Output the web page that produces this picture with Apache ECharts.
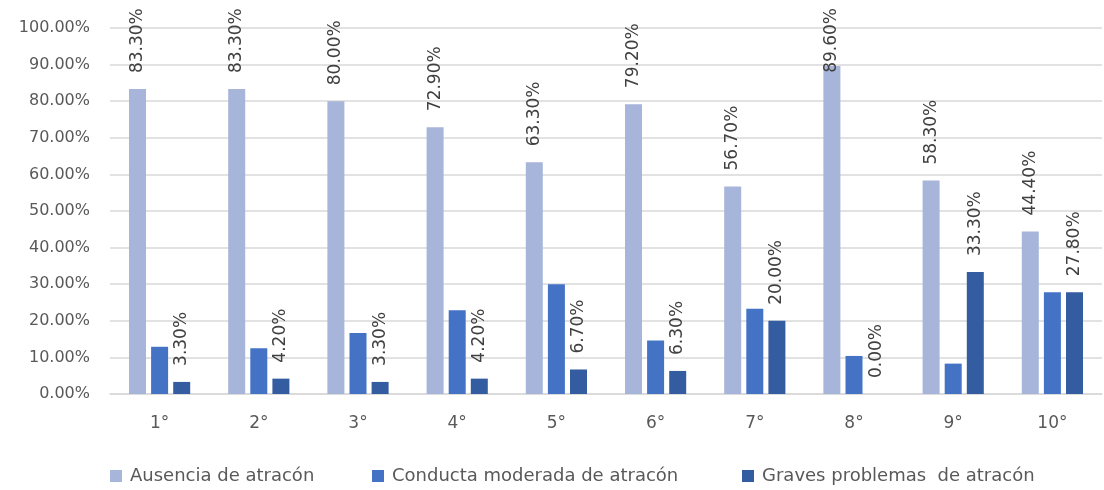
<!DOCTYPE html>
<html>
<head>
<meta charset="utf-8">
<script src="https://cdn.jsdelivr.net/npm/echarts@6/dist/echarts.min.js"></script>
<style>
  html, body { margin: 0; padding: 0; background: #fff; }
  #chart { width: 1104px; height: 490px; }
</style>
</head>
<body>
<div id="chart"></div>
<script>
const categories = ['1°', '2°', '3°', '4°', '5°', '6°', '7°', '8°', '9°', '10°'];
const seriesNames = ['Ausencia de atracón', 'Conducta moderada de atracón', 'Graves problemas  de atracón'];
const ausencia = [83.3, 83.3, 80.0, 72.9, 63.3, 79.2, 56.7, 89.6, 58.3, 44.4];
const moderada = [12.9, 12.5, 16.7, 22.9, 30.0, 14.6, 23.3, 10.4, 8.3, 27.8];
const graves = [3.3, 4.2, 3.3, 4.2, 6.7, 6.3, 20.0, 0.0, 33.3, 27.8];
const colors = ['#a7b5da', '#4472c4', '#345ca0'];

const textColor = '#595959';
const fontFamily = 'DejaVu Sans';
const labelDist = 16;

const chart = echarts.init(document.getElementById('chart'));

// rotated value label above the bar
const topLabel = {
  show: true,
  position: 'top',
  rotate: 90,
  align: 'left',
  verticalAlign: 'middle',
  distance: labelDist,
  color: '#404040',
  fontFamily: fontFamily,
  fontSize: 17,
  formatter: p => p.value.toFixed(2) + '%'
};

// keep the rotated label inside the canvas
function keepInside(params) {
  const r = params.labelRect;
  const len = Math.max(r.width, r.height);
  const start = params.rect.y - labelDist;
  if (start - len < 8) return { y: 8 + len };
  return {};
}

function bar(i, data, withLabel) {
  return {
    name: seriesNames[i],
    type: 'bar',
    data: data,
    barWidth: 17,
    barGap: '30%',
    itemStyle: { color: colors[i] },
    label: withLabel ? topLabel : { show: false },
    labelLayout: withLabel ? keepInside : undefined
  };
}

// one legend per entry so each can sit where the original places it
const legendLeft = [105, 367, 737];
const legends = seriesNames.map((n, i) => ({
  data: [n],
  left: legendLeft[i],
  bottom: 0,
  itemWidth: 12,
  itemHeight: 12,
  icon: 'rect',
  selectedMode: false,
  textStyle: { color: textColor, fontFamily: fontFamily, fontSize: 18, padding: [0, 0, 0, 3] }
}));

chart.setOption({
  animation: false,
  grid: { left: 110, right: 2, top: 28, bottom: 96 },
  legend: legends,
  xAxis: {
    type: 'category',
    data: categories,
    axisLine: { lineStyle: { color: '#d9d9d9', width: 1.5 } },
    axisTick: { show: false },
    axisLabel: { color: textColor, fontFamily: fontFamily, fontSize: 17, margin: 21 }
  },
  yAxis: {
    type: 'value',
    min: 0,
    max: 100,
    interval: 10,
    axisLine: { show: false },
    axisTick: { show: false },
    splitLine: { lineStyle: { color: '#d9d9d9', width: 1.5 } },
    axisLabel: {
      color: textColor,
      fontFamily: fontFamily,
      fontSize: 16,
      margin: 20,
      formatter: v => v.toFixed(2) + '%'
    }
  },
  series: [
    bar(0, ausencia, true),
    bar(1, moderada, false),
    bar(2, graves, true)
  ]
});
</script>
</body>
</html>
